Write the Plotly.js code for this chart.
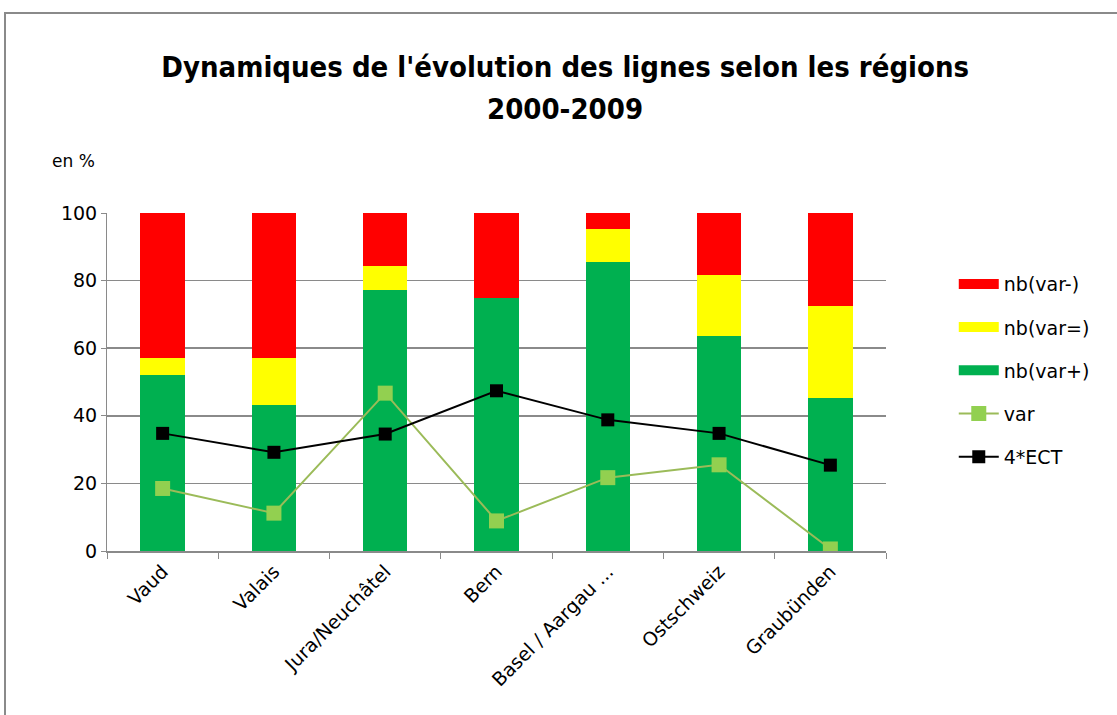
<!DOCTYPE html>
<html>
<head>
<meta charset="utf-8">
<script src="https://cdn.plot.ly/plotly-3.0.1.min.js"></script>
<style>
html,body{margin:0;padding:0;background:#fff;overflow:hidden;}
#wrap{position:relative;width:1117px;height:715px;}
#frame{position:absolute;left:4px;top:12px;width:2000px;height:2000px;border:2px solid #8a8a8a;box-sizing:border-box;pointer-events:none;}
#chart{position:absolute;left:0;top:0;width:1117px;height:715px;}
</style>
</head>
<body>
<div id="wrap"><div id="chart"></div><div id="frame"></div></div>
<script>
const regions = ["Vaud","Valais","Jura/Neuchâtel","Bern","Basel / Aargau ...","Ostschweiz","Graubünden"];
const nbVarPlus  = [52.1, 43.2, 77.1, 75.0, 85.6, 63.7, 45.3];
const nbVarEq    = [5.1, 14.0, 7.3, 0.0, 9.7, 18.0, 27.2];
const nbVarMinus = [42.8, 42.8, 15.6, 25.0, 4.7, 18.3, 27.5];
const varVals    = [18.5, 11.2, 46.7, 8.9, 21.7, 25.5, 0.6];
const ect4       = [34.8, 29.2, 34.6, 47.4, 38.8, 34.8, 25.4];
const yTicks     = [0, 20, 40, 60, 80, 100];
const titleLine1 = "Dynamiques de l'évolution des lignes selon les régions";
const titleLine2 = "2000-2009";

const font = "'DejaVu Sans', sans-serif";
const tfont = "'DejaVu Sans Condensed', 'DejaVu Sans', sans-serif";
const cRed = '#FF0000', cYel = '#FFFF00', cGrn = '#00B050';

const traces = [
  {type:'bar', name:'nb(var+)', x:regions, y:nbVarPlus, marker:{color:cGrn}, showlegend:false},
  {type:'bar', name:'nb(var=)', x:regions, y:nbVarEq, marker:{color:cYel}, showlegend:false},
  {type:'bar', name:'nb(var-)', x:regions, y:nbVarMinus, marker:{color:cRed}, showlegend:false},
  {type:'scatter', mode:'lines+markers', name:'var', x:regions, y:varVals,
   line:{color:'#9BBB59', width:2}, marker:{symbol:'square', size:15, color:'#92D050'},
   legendrank:4, legendgroup:'g4', showlegend:true},
  {type:'scatter', mode:'lines+markers', name:'4*ECT', x:regions, y:ect4,
   line:{color:'#000000', width:2}, marker:{symbol:'square', size:13, color:'#000000'},
   legendrank:5, legendgroup:'g5', showlegend:true},
  // legend keys for the stacked bars (wide colour swatches)
  {type:'scatter', mode:'lines', name:'nb(var-)', x:[null], y:[null], line:{color:cRed, width:11}, legendrank:1, legendgroup:'g1', hoverinfo:'skip'},
  {type:'scatter', mode:'lines', name:'nb(var=)', x:[null], y:[null], line:{color:cYel, width:11}, legendrank:2, legendgroup:'g2', hoverinfo:'skip'},
  {type:'scatter', mode:'lines', name:'nb(var+)', x:[null], y:[null], line:{color:cGrn, width:11}, legendrank:3, legendgroup:'g3', hoverinfo:'skip'}
];

const layout = {
  width:1117, height:715,
  margin:{l:107, r:231, t:213, b:164},
  paper_bgcolor:'#ffffff', plot_bgcolor:'#ffffff',
  barmode:'stack', bargap:0.6,
  showlegend:true,
  font:{family:font, size:18, color:'#000'},
  title:{text:titleLine1,
         font:{family:tfont, size:29, color:'#000', weight:'bold'}, x:0.506, xanchor:'center',
         yref:'container', y:1-77/715, yanchor:'bottom'},
  xaxis:{type:'category', tickangle:-45, showline:true, linecolor:'#8a8a8a', linewidth:2,
         ticks:'outside', tickson:'boundaries', ticklen:6, tickcolor:'#8a8a8a', tickwidth:1,
         showgrid:false, tickfont:{family:font, size:19}},
  yaxis:{range:[0,100], tickvals:yTicks, showline:true, linecolor:'#8a8a8a', linewidth:1,
         ticks:'outside', ticklen:5, tickcolor:'#8a8a8a', gridcolor:'#8a8a8a', gridwidth:1.5,
         zeroline:false, tickfont:{family:font, size:19}},
  legend:{x:1.087, xanchor:'left', y:0.846, yanchor:'top', traceorder:'grouped', tracegroupgap:15.5,
          font:{family:font, size:19}, itemwidth:40, bgcolor:'rgba(0,0,0,0)'},
  annotations:[
    {text:titleLine2, xref:'paper', yref:'paper', x:(565-107)/779, y:(551-128)/338, xanchor:'center', yanchor:'bottom',
     showarrow:false, font:{family:tfont, size:29, color:'#000', weight:'bold'}},
    {text:'en %', xref:'paper', yref:'paper', x:(73-107)/779, y:(551-161)/338, xanchor:'center', yanchor:'middle',
     showarrow:false, font:{family:font, size:17}}
  ]
};

Plotly.newPlot('chart', traces, layout, {displayModeBar:false, staticPlot:true});
</script>
</body>
</html>
